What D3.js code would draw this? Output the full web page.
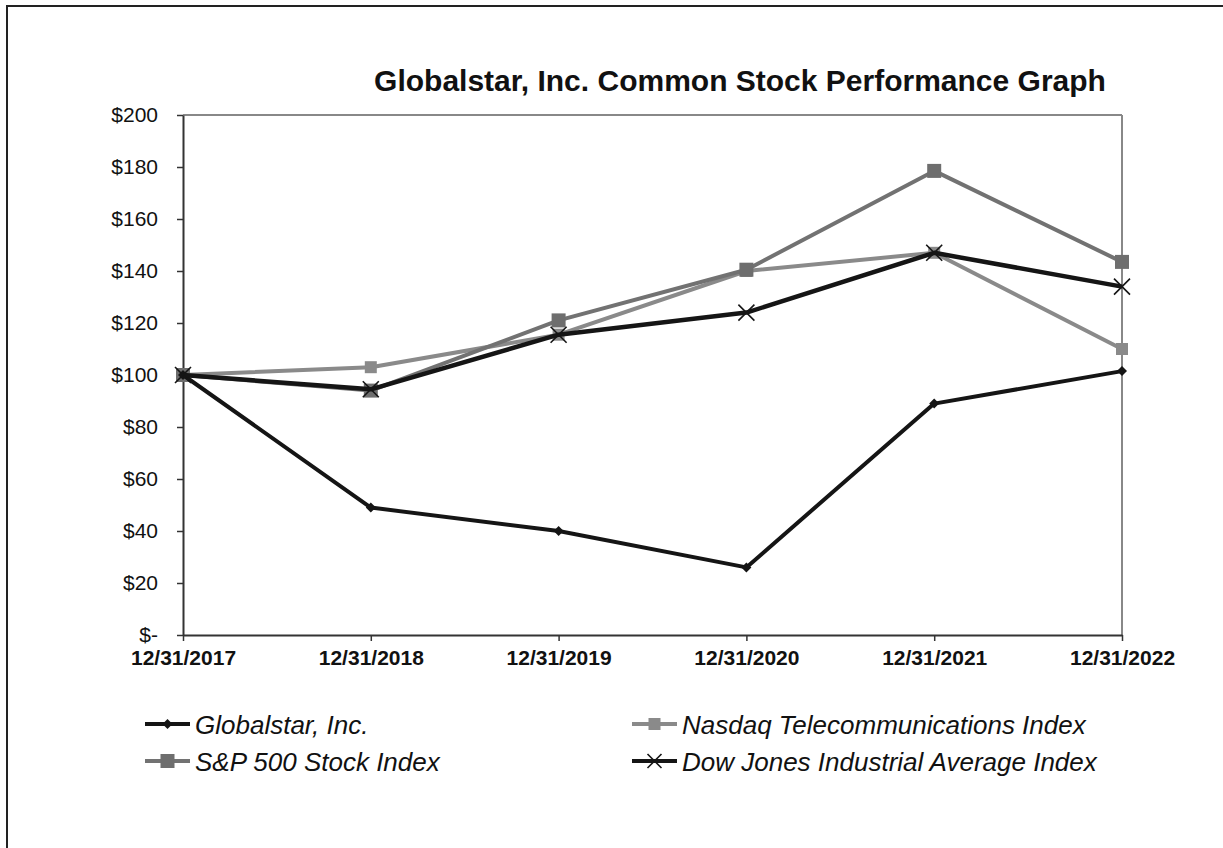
<!DOCTYPE html>
<html><head><meta charset="utf-8">
<script src="https://cdn.jsdelivr.net/npm/d3@7"></script>
<style>body{margin:0;background:#fff}svg{display:block;font-family:"Liberation Sans",Arial,sans-serif}</style>
</head><body>
<svg id="c" width="1223" height="848"></svg>
<script>
const categories = ["12/31/2017","12/31/2018","12/31/2019","12/31/2020","12/31/2021","12/31/2022"];
const globalstar = [100, 49, 40, 26, 89, 101.5];
const nasdaq = [100, 103, 115.5, 140, 147, 110];
const sp500 = [100, 94, 121, 140.5, 178.5, 143.5];
const dow = [100, 94.5, 115.5, 124, 147, 134];
const yTicks = [0,20,40,60,80,100,120,140,160,180,200];
const seriesNames = ["Globalstar, Inc.","Nasdaq Telecommunications Index","S&P 500 Stock Index","Dow Jones Industrial Average Index"];

const svg = d3.select("#c");
svg.append("rect").attr("x",7).attr("y",6).attr("width",1240).attr("height",900)
  .attr("fill","none").attr("stroke","#222").attr("stroke-width",2);

const L=183,R=1122,T=115,B=635;
const x = d3.scalePoint().domain(categories).range([L,R]);
const y = d3.scaleLinear().domain([0,200]).range([B,T]);

svg.append("text").attr("x",740).attr("y",91).attr("text-anchor","middle")
  .attr("font-size",30).attr("font-weight","bold").attr("fill","#111")
  .text("Globalstar, Inc. Common Stock Performance Graph");

// plot frame top/right
svg.append("line").attr("x1",L).attr("x2",R).attr("y1",T).attr("y2",T).attr("stroke","#888").attr("stroke-width",2);
svg.append("line").attr("x1",R).attr("x2",R).attr("y1",T).attr("y2",B).attr("stroke","#888").attr("stroke-width",2);

const yAxis = svg.append("g").attr("transform",`translate(${L},0)`)
  .call(d3.axisLeft(y).tickValues(yTicks).tickSize(6).tickPadding(19).tickSizeOuter(0)
    .tickFormat(d=> d===0 ? "$-" : "$"+d));
yAxis.select(".domain").attr("stroke","#333").attr("stroke-width",2);
yAxis.selectAll(".tick line").attr("stroke","#333").attr("stroke-width",1.5);
yAxis.selectAll("text").attr("font-size",21).attr("fill","#111").attr("font-family","Liberation Sans, Arial, sans-serif");

const xAxis = svg.append("g").attr("transform",`translate(0,${B})`)
  .call(d3.axisBottom(x).tickSize(6).tickPadding(9).tickSizeOuter(0));
xAxis.select(".domain").attr("stroke","#333").attr("stroke-width",2);
xAxis.selectAll(".tick line").attr("stroke","#333").attr("stroke-width",1.5);
xAxis.selectAll("text").attr("font-size",21).attr("font-weight","bold").attr("fill","#111").attr("font-family","Liberation Sans, Arial, sans-serif");

const defs = [
  {name:seriesNames[1], data:nasdaq, color:"#8a8a8a", w:4, marker:"square", ms:12, mc:"#8a8a8a"},
  {name:seriesNames[2], data:sp500, color:"#727272", w:4, marker:"square", ms:14, mc:"#6e6e6e"},
  {name:seriesNames[0], data:globalstar, color:"#151515", w:4, marker:"diamond", ms:10, mc:"#151515"},
  {name:seriesNames[3], data:dow, color:"#151515", w:4.5, marker:"x", ms:16, mc:"#151515"}
];
const line = d3.line().x((d,i)=>x(categories[i])).y(d=>y(d));

function drawMarker(g, type, cx, cy, s, c){
  if(type==="square"){
    g.append("rect").attr("x",cx-s/2).attr("y",cy-s/2).attr("width",s).attr("height",s).attr("fill",c);
  } else if(type==="diamond"){
    g.append("path").attr("d",`M${cx},${cy-s/2}L${cx+s/2},${cy}L${cx},${cy+s/2}L${cx-s/2},${cy}Z`).attr("fill",c);
  } else {
    const h=s/2;
    g.append("path").attr("d",`M${cx-h},${cy-h}L${cx+h},${cy+h}M${cx-h},${cy+h}L${cx+h},${cy-h}`)
      .attr("stroke",c).attr("stroke-width",1.6).attr("fill","none");
  }
}

defs.forEach(s=>{
  const g = svg.append("g");
  g.append("path").datum(s.data).attr("d",line).attr("fill","none")
    .attr("stroke",s.color).attr("stroke-width",s.w).attr("stroke-linejoin","round");
  s.data.forEach((v,i)=>drawMarker(g,s.marker,x(categories[i]),y(v),s.ms,s.mc));
});

// legend
const legendItems = [
  {d:defs[2], lx:145, ly:724},
  {d:defs[0], lx:632, ly:724},
  {d:defs[1], lx:145, ly:761},
  {d:defs[3], lx:632, ly:761}
];
legendItems.forEach(it=>{
  const g = svg.append("g");
  g.append("line").attr("x1",it.lx).attr("x2",it.lx+45).attr("y1",it.ly).attr("y2",it.ly)
    .attr("stroke",it.d.color).attr("stroke-width",4);
  drawMarker(g,it.d.marker,it.lx+22.5,it.ly,it.d.marker==="x"?14:it.d.ms,it.d.mc);
  g.append("text").attr("x",it.lx+50).attr("y",it.ly+10).attr("font-size",26)
    .attr("font-style","italic").attr("fill","#111").text(it.d.name);
});
</script>
</body></html>
